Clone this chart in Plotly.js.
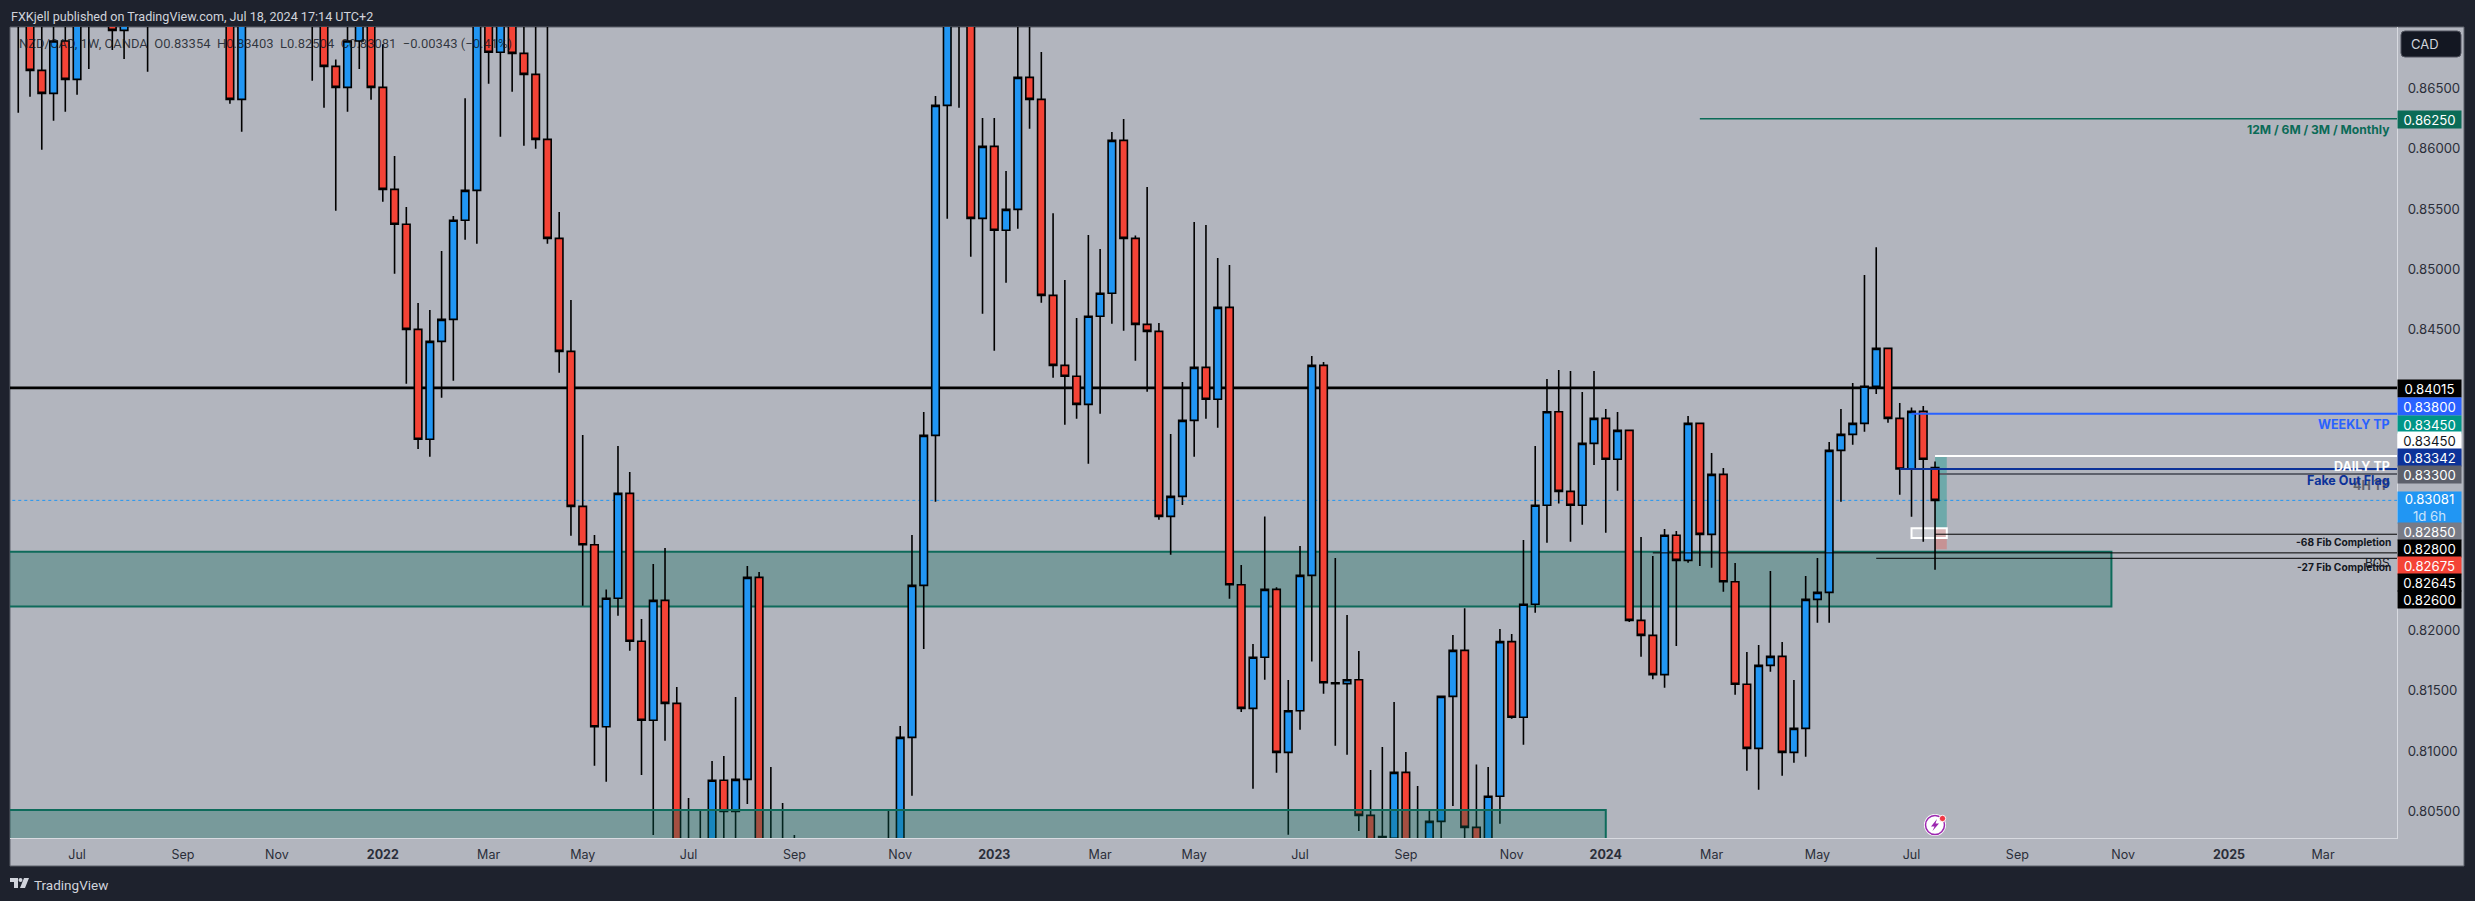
<!DOCTYPE html>
<html><head><meta charset="utf-8">
<script src="https://cdn.plot.ly/plotly-3.0.1.min.js"></script>
<style>html,body{margin:0;padding:0;background:#1E222D;overflow:hidden}#c{width:2475px;height:901px}</style>
</head><body><div id="c"></div>
<script>
const open = [.87400,.87450,.86651,.86460,.86895,.86576,.87700,.87450,.87750,.86983,.87600,.87850,.87600,.88000,.87800,.88100,.88350,.88050,.87700,.86410,.87800,.88050,.88300,.88150,.87900,.87700,.87450,.86684,.86510,.86895,.87200,.86510,.85663,.85373,.84501,.83588,.84401,.84584,.85406,.85655,.87250,.86801,.87200,.86792,.86618,.86078,.85256,.84318,.83031,.82713,.81202,.82268,.83139,.81911,.81255,.82251,.81396,.79900,.79450,.79850,.80757,.80499,.80765,.82442,.79900,.79500,.79250,.79050,.79200,.78950,.79150,.79400,.79250,.79600,.79850,.79950,.81113,.82375,.83621,.86360,.87500,.87200,.85422,.86020,.85323,.85497,.86593,.86410,.84783,.84202,.84111,.83878,.84609,.84800,.86070,.85256,.84542,.84484,.82948,.83114,.83745,.84185,.83920,.84683,.82381,.81354,.81778,.82342,.80989,.81335,.82458,.84202,.81567,.81560,.81592,.80466,.80290,.80275,.80823,.79900,.79750,.80416,.81454,.81836,.80366,.79950,.80624,.81908,.81280,.82218,.83040,.83817,.83156,.83040,.83554,.83762,.83422,.83662,.82085,.81960,.81634,.82791,.82583,.83720,.82799,.83297,.82406,.81554,.81022,.81711,.81786,.80989,.81188,.82259,.82317,.83496,.83629,.83720,.84028,.84343,.83762,.83341,.83820,.83354];
const high = [.87700,.87650,.87350,.87300,.87250,.87600,.87850,.87900,.87900,.87800,.88000,.88100,.88150,.88300,.88250,.88500,.88600,.88250,.87900,.88100,.88250,.88500,.88700,.88450,.88200,.87850,.87600,.86742,.87010,.87300,.87350,.86867,.85940,.85516,.84719,.84661,.85151,.85442,.86419,.87450,.87400,.87400,.87350,.87100,.87100,.87080,.85475,.84744,.83624,.82793,.82342,.83532,.83316,.82096,.82553,.82685,.81531,.80610,.80505,.80917,.80959,.81448,.82536,.82486,.80867,.80568,.80303,.79750,.79600,.79500,.79850,.80000,.79950,.80100,.80505,.81208,.82793,.83814,.86438,.87650,.87750,.87400,.86255,.86255,.85815,.87080,.87080,.86803,.85464,.84910,.84595,.85284,.85168,.86139,.86247,.85281,.85682,.84553,.83632,.84064,.85392,.85367,.85093,.85035,.82544,.81888,.82948,.82360,.81590,.82702,.84279,.84230,.82602,.82129,.81830,.80842,.81033,.81407,.80992,.80709,.80505,.81460,.81963,.82185,.80889,.80867,.82013,.81971,.82752,.83532,.84088,.84163,.84155,.83981,.84155,.83839,.83814,.83665,.82777,.82619,.82843,.82827,.83781,.83725,.83474,.83350,.82561,.81822,.81880,.82494,.81905,.81590,.82453,.82602,.83565,.83839,.84055,.84952,.85182,.84350,.83889,.83853,.83864,.83403];
const low = [.86300,.86432,.85992,.86233,.86308,.86449,.86662,.87200,.86820,.86745,.87300,.86640,.87350,.87700,.87500,.87850,.87900,.87450,.86374,.86142,.87550,.87800,.88000,.87700,.87550,.86565,.86341,.85486,.86308,.86662,.86408,.85561,.84963,.84050,.83507,.83444,.83934,.84075,.85245,.85212,.86540,.86100,.86474,.86026,.86001,.85212,.84141,.82788,.82207,.80878,.80745,.82124,.81833,.80801,.80303,.81086,.79750,.79200,.79150,.79600,.79750,.80050,.80560,.79750,.79300,.79050,.78850,.78800,.78700,.78750,.78950,.79050,.79100,.79400,.79650,.79700,.80629,.81847,.83070,.85420,.86341,.85104,.84631,.84324,.84888,.85337,.86167,.84722,.84100,.83709,.83759,.83386,.83801,.84548,.84490,.84241,.83983,.82921,.82630,.83042,.83444,.83759,.83684,.82265,.81324,.80687,.81592,.80820,.80305,.81177,.81744,.81476,.81044,.80970,.80336,.80000,.79850,.79900,.79750,.79550,.79600,.80150,.80543,.80100,.79750,.79750,.80397,.81269,.81053,.82149,.82730,.83056,.82738,.82879,.83374,.82813,.83161,.82071,.81783,.81595,.81526,.81872,.82564,.82536,.82522,.82323,.81468,.80837,.80679,.81659,.80795,.80903,.80953,.82065,.82065,.83070,.83543,.83651,.83964,.83726,.83128,.82946,.82738,.82504];
const close = [.87150,.86651,.86460,.86895,.86576,.87450,.87450,.87750,.86983,.87600,.87850,.87600,.88000,.87800,.88100,.88350,.88050,.87700,.86410,.87800,.88050,.88300,.88150,.87900,.87700,.87450,.86684,.86510,.86895,.87200,.86510,.85663,.85373,.84501,.83588,.84401,.84584,.85406,.85655,.87250,.86801,.87200,.86792,.86618,.86078,.85256,.84318,.83031,.82713,.81202,.82268,.83139,.81911,.81255,.82251,.81396,.79900,.79450,.79850,.80757,.80499,.80765,.82442,.79900,.79500,.79250,.79050,.79200,.78950,.79150,.79400,.79250,.79600,.79850,.79950,.81113,.82375,.83621,.86360,.87450,.87200,.85422,.86020,.85323,.85497,.86593,.86410,.84783,.84202,.84111,.83878,.84609,.84800,.86070,.85256,.84542,.84484,.82948,.83114,.83745,.84185,.83920,.84683,.82381,.81354,.81778,.82342,.80989,.81335,.82458,.84202,.81567,.81560,.81592,.80466,.79950,.80283,.80823,.79900,.79750,.80416,.81454,.81836,.80366,.79950,.80624,.81908,.81280,.82218,.83040,.83817,.83156,.83040,.83554,.83762,.83422,.83662,.82085,.81960,.81634,.82791,.82583,.83720,.82799,.83297,.82406,.81554,.81022,.81711,.81786,.80989,.81188,.82259,.82317,.83496,.83629,.83720,.84028,.84343,.83762,.83341,.83820,.83422,.83081];

const weekDates = open.map((_, i) => {
  const d = new Date(Date.UTC(2021, 4, 31 + 7 * i));
  return d.toISOString().slice(0, 10);
});

const timeTickDates = ['2021-07-05','2021-09-06','2021-11-01','2022-01-03','2022-03-07','2022-05-02','2022-07-04','2022-09-05','2022-11-07','2023-01-02','2023-03-06','2023-05-01','2023-07-03','2023-09-04','2023-11-06','2024-01-01','2024-03-04','2024-05-06','2024-07-01','2024-09-02','2024-11-04','2025-01-06','2025-03-03'];
const timeTickLabels = ['Jul','Sep','Nov','<b>2022</b>','Mar','May','Jul','Sep','Nov','<b>2023</b>','Mar','May','Jul','Sep','Nov','<b>2024</b>','Mar','May','Jul','Sep','Nov','<b>2025</b>','Mar'];
const priceTicks = [0.805,0.81,0.815,0.82,0.845,0.85,0.855,0.86,0.865];

const priceLabelText = ['0.86250','0.84015','0.83800','0.83450','0.83450','0.83342','0.83300','0.83081<br><span style="opacity:.75">1d 6h</span>','0.82850','0.82800','0.82675','0.82645','0.82600'];
const priceLabelFill = ['#0B6B57','#000000','#2962FF','#009688','#FFFFFF','#0C3299','#5D606B','#2196F3','#787B86','#000000','#F44336','#000000','#000000'];
const priceLabelInk  = ['#FFFFFF','#FFFFFF','#FFFFFF','#FFFFFF','#131722','#FFFFFF','#FFFFFF','#FFFFFF','#FFFFFF','#FFFFFF','#FFFFFF','#FFFFFF','#FFFFFF'];
const priceLabelPixelY = [119.3,388.3,406,424,440.3,457.3,474.3,507.5,531.3,548.7,565.7,582.7,599.7];

const W = 2475, H = 901, L = 10, R = 2397, T = 27, B = 838;
const px = x => (x - L) / (R - L);
const py = y => (B - y) / (B - T);

function seg(x0, p, color, width, layer, dash) {
  return {type:'line', xref:'x', yref:'y', x0:x0, x1:'2025-06-01', y0:p, y1:p, layer:layer,
          line:{color:color, width:width, dash:dash||'solid'}};
}
function zone(x0, x1, p0, p1, layer) {
  return {type:'rect', xref:'x', yref:'y', x0:x0, x1:x1, y0:p0, y1:p1, layer:layer,
          fillcolor:'rgba(8,104,87,0.34)', line:{color:'#0E6B5B', width:2}};
}
function rr(x0, y0, x1, y1, r) {
  const a=px, b=py;
  return `M${a(x0+r)},${b(y0)} L${a(x1-r)},${b(y0)} Q${a(x1)},${b(y0)} ${a(x1)},${b(y0+r)} L${a(x1)},${b(y1-r)} Q${a(x1)},${b(y1)} ${a(x1-r)},${b(y1)} L${a(x0+r)},${b(y1)} Q${a(x0)},${b(y1)} ${a(x0)},${b(y1-r)} L${a(x0)},${b(y0+r)} Q${a(x0)},${b(y0)} ${a(x0+r)},${b(y0)} Z`;
}
function poly(pts) {
  return 'M' + pts.map(p => px(p[0]) + ',' + py(p[1])).join(' L') + ' Z';
}
function paperShape(o, layer) { return Object.assign({xref:'paper', yref:'paper', layer:layer||'above'}, o); }
function circle(cx, cy, r, fill, lineColor, lw, layer) {
  return paperShape({type:'circle', x0:px(cx-r), x1:px(cx+r), y0:py(cy+r), y1:py(cy-r), fillcolor:fill, line:{color:lineColor, width:lw}}, layer);
}

const shapes = [
  paperShape({type:'rect', x0:px(10), x1:px(2464), y0:py(866), y1:py(27), fillcolor:'#B2B5BE', line:{color:'#5D606B', width:1}}, 'below'),
  zone('2021-01-01','2024-10-28',0.82199,0.82655,'below'),
  seg('2021-01-01',0.84015,'#000000',2.6,'below'),
  seg('2021-01-01',0.83081,'#2196F3',1,'below','dot'),
  {type:'rect', xref:'x', yref:'y', x0:'2024-07-15', x1:'2024-07-22', y0:0.8285, y1:0.8345, layer:'below', fillcolor:'rgba(0,150,136,0.38)', line:{width:0}},
  {type:'rect', xref:'x', yref:'y', x0:'2024-07-15', x1:'2024-07-22', y0:0.82675, y1:0.8285, layer:'below', fillcolor:'rgba(244,67,54,0.3)', line:{width:0}},
  {type:'rect', xref:'x', yref:'y', x0:'2024-07-01', x1:'2024-07-22', y0:0.82768, y1:0.8285, layer:'below', fillcolor:'rgba(255,255,255,0.3)', line:{color:'#FFFFFF', width:2}},
  seg('2024-07-15',0.833,'#5D606B',2,'below'),
  zone('2021-01-01','2024-01-01',0.795,0.80511,'above'),
  seg('2024-02-26',0.8625,'#0B6B57',1.5,'above'),
  seg('2024-07-01',0.838,'#2962FF',2,'above'),
  seg('2024-07-15',0.8345,'#FFFFFF',2,'above'),
  seg('2024-06-24',0.83342,'#0C3299',2,'above'),
  seg('2024-07-15',0.828,'#000000',1,'above'),
  seg('2024-01-29',0.82645,'#000000',1,'above'),
  seg('2024-06-10',0.826,'#000000',1,'above'),
  paperShape({type:'path', path:rr(2401,31,2461,57,4), fillcolor:'#131722', line:{color:'#50535E', width:1}}),
  circle(1935,825,11,'#FFFFFF','#FFFFFF',0),
  circle(1935,825,9.5,'#FFFFFF','#9C27B0',1.5),
  paperShape({type:'path', path:poly([[1937,819],[1931,826.5],[1934.5,826.5],[1932.5,831],[1939,823.5],[1935.5,823.5]]), fillcolor:'#9C27B0', line:{width:0}}),
  circle(1942.5,818.5,3.2,'#F23645','#FFFFFF',1),
  paperShape({type:'path', path:poly([[10,878],[18,878],[18,888],[14,888],[14,882],[10,882]]), fillcolor:'#D1D4DC', line:{width:0}}),
  circle(20.5,880,2,'#D1D4DC','#D1D4DC',0),
  paperShape({type:'path', path:poly([[24,878],[29,878],[25,888],[20,888]]), fillcolor:'#D1D4DC', line:{width:0}})
];

function note(text, x, y, size, color, anchor, bold, fam) {
  return {xref:'paper', yref:'paper', x:px(x), y:py(y), text: bold ? '<b>'+text+'</b>' : text, showarrow:false,
          xanchor:anchor||'right', yanchor:'middle', align:anchor==='left'?'left':'right',
          font:{family:fam||'Inter, sans-serif', size:size, color:color}};
}
const annotations = [
  note('FXKjell published on TradingView.com, Jul 18, 2024 17:14 UTC+2', 9, 16, 12.6, '#D1D4DC', 'left', false, 'Roboto, sans-serif'),
  note('NZD/CAD, 1W, OANDA\u00A0\u00A0O0.83354\u00A0\u00A0H0.83403\u00A0\u00A0L0.82504\u00A0\u00A0C0.83081\u00A0\u00A0\u22120.00343 (\u22120.41%)', 17, 43, 13, 'rgba(19,23,34,0.82)', 'left', false, 'Roboto, sans-serif'),
  note('TradingView', 32, 885, 13.5, '#D1D4DC', 'left', false, 'Roboto, sans-serif'),
  note('CAD', 2409, 44, 13, '#D1D4DC', 'left'),
  note('12M / 6M / 3M / Monthly', 2392, 129.5, 12.1, '#0B6B57', 'right', true),
  note('WEEKLY TP', 2392, 424, 12.5, '#2962FF', 'right', true),
  note('DAILY TP', 2392, 466.5, 12.5, '#FFFFFF', 'right', true),
  note('4H TP', 2392, 485, 12.5, '#5D606B', 'right', true),
  note('Fake Out Flag', 2392, 480, 12.5, '#0C3299', 'right', true),
  note('-68 Fib Completion', 2392.5, 542.5, 10.2, '#131722', 'right', true),
  note('BOS', 2392, 562, 12, '#131722', 'right', false),
  note('-27 Fib Completion', 2392.5, 566.5, 10.2, '#131722', 'right', true)
];
priceLabelText.forEach((t, i) => {
  annotations.push({xref:'paper', yref:'paper', x:px(2397), y:py(priceLabelPixelY[i]), text:t, showarrow:false,
    xanchor:'left', yanchor:'middle', align:'center', width:63, height:i===7?31:17, borderpad:0,
    bgcolor:priceLabelFill[i], font:{family:'Inter, sans-serif', size:13.2, color:priceLabelInk[i]}});
});

const trace = {
  type:'candlestick', x:weekDates, open:open, high:high, low:low, close:close,
  whiskerwidth:0, hoverinfo:'skip', showlegend:false,
  increasing:{line:{color:'#000000', width:1.6}, fillcolor:'#2196F3'},
  decreasing:{line:{color:'#000000', width:1.6}, fillcolor:'#F44336'}
};
const layout = {
  width:W, height:H, autosize:false, showlegend:false,
  margin:{l:L, r:W-R, t:T, b:H-B, pad:0},
  paper_bgcolor:'#1E222D', plot_bgcolor:'#B2B5BE',
  boxgap:0.36, boxgroupgap:0,
  font:{family:'Inter, sans-serif', color:'#2A2E39'},
  xaxis:{type:'date', range:['2021-05-26 02:00','2025-04-16'], rangeslider:{visible:false},
    tickmode:'array', tickvals:timeTickDates, ticktext:timeTickLabels, tickangle:0,
    showgrid:false, zeroline:false, showline:true, linecolor:'#D8DAE0', linewidth:1,
    ticks:'outside', ticklen:5, tickcolor:'rgba(0,0,0,0)', tickfont:{family:'Inter, sans-serif', size:12.5, color:'#2A2E39'}},
  yaxis:{side:'right', range:[0.80278,0.87011], tickmode:'array', tickvals:priceTicks, tickformat:'.5f',
    showgrid:false, zeroline:false, showline:true, linecolor:'#D8DAE0', linewidth:1,
    ticks:'outside', ticklen:7, tickcolor:'rgba(0,0,0,0)', tickfont:{family:'Inter, sans-serif', size:13.2, color:'#2A2E39'}},
  shapes:shapes, annotations:annotations
};
Plotly.newPlot('c', [trace], layout, {displayModeBar:false, staticPlot:true});
</script></body></html>
